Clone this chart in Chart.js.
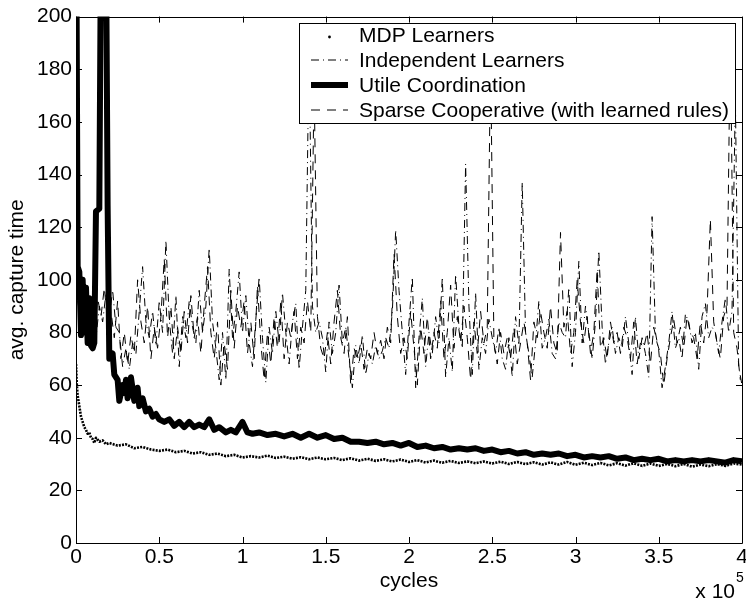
<!DOCTYPE html>
<html>
<head>
<meta charset="utf-8">
<title>avg. capture time</title>
<script src="https://cdn.jsdelivr.net/npm/chart.js@4.4.1/dist/chart.umd.min.js"></script>
<style>
  html, body { margin: 0; padding: 0; background: #fff; }
  #wrap { width: 746px; height: 601px; }
</style>
</head>
<body>
<div id="wrap"><canvas id="chart" width="746" height="601"></canvas></div>
<script>
// x values are in units of 10^5 cycles
const seriesNames = ['MDP Learners', 'Independent Learners', 'Utile Coordination', 'Sparse Cooperative (with learned rules)'];

const xTicks = [0, 0.5, 1, 1.5, 2, 2.5, 3, 3.5, 4];
const yTicks = [0, 20, 40, 60, 80, 100, 120, 140, 160, 180, 200];

const mdpCycles = [0, 0.005, 0.01, 0.02, 0.03, 0.04, 0.05, 0.06, 0.07, 0.08, 0.09, 0.1, 0.11, 0.12, 0.14, 0.16, 0.18, 0.2,
  0.25, 0.3, 0.35, 0.4, 0.45, 0.5, 0.55, 0.6, 0.65, 0.7, 0.75, 0.8, 0.85, 0.9, 0.95, 1.0,
  1.05, 1.1, 1.15, 1.2, 1.25, 1.3, 1.35, 1.4, 1.45, 1.5, 1.55, 1.6, 1.65, 1.7, 1.75, 1.8, 1.85, 1.9, 1.95, 2.0,
  2.05, 2.1, 2.15, 2.2, 2.25, 2.3, 2.35, 2.4, 2.45, 2.5, 2.55, 2.6, 2.65, 2.7, 2.75, 2.8, 2.85, 2.9, 2.95, 3.0,
  3.05, 3.1, 3.15, 3.2, 3.25, 3.3, 3.35, 3.4, 3.45, 3.5, 3.55, 3.6, 3.65, 3.7, 3.75, 3.8, 3.85, 3.9, 3.95, 4.0];
const mdpValues = [68, 60, 56, 52, 48, 46, 44, 43, 41.5, 42, 40, 39.5, 38, 40, 38.5, 39, 37.5, 38,
  37, 37.5, 36, 36.5, 35.5, 35, 35.5, 34.5, 35, 34, 34.5, 33.5, 34, 33, 33.5, 32.5,
  33, 32.5, 33.2, 32.3, 32.8, 32, 32.6, 31.8, 32.5, 31.8, 32.3, 31.5, 32.2, 31.3, 32, 31.2, 31.8, 31, 31.7, 30.8,
  31.5, 30.6, 31.3, 30.5, 31.2, 30.4, 31, 30.3, 31, 30.2, 30.9, 30, 30.8, 30, 30.7, 29.8, 30.6, 29.8, 30.8, 29.7,
  30.5, 29.6, 30.4, 29.5, 30.3, 29.4, 30.3, 29.3, 30.2, 29.3, 30, 29.2, 30, 29, 29.8, 29.2, 30, 29.3, 30.2, 29.8];

const indepCycles = [
  0, 0.02, 0.04, 0.06, 0.08, 0.1, 0.12, 0.14, 0.16, 0.18,
  0.2, 0.22, 0.24, 0.26, 0.28, 0.3, 0.32, 0.34, 0.36, 0.38,
  0.4, 0.42, 0.44, 0.46, 0.48, 0.5, 0.52, 0.54, 0.56, 0.58,
  0.6, 0.62, 0.64, 0.66, 0.68, 0.7, 0.72, 0.74, 0.76, 0.78,
  0.8, 0.82, 0.84, 0.86, 0.88, 0.9, 0.92, 0.94, 0.96, 0.98,
  1.0, 1.02, 1.04, 1.06, 1.08, 1.1, 1.12, 1.14, 1.16, 1.18,
  1.2, 1.22, 1.24, 1.26, 1.28, 1.3, 1.32, 1.34, 1.36, 1.38,
  1.4, 1.42, 1.44, 1.46, 1.48, 1.5, 1.52, 1.54, 1.56, 1.58,
  1.6, 1.62, 1.64, 1.66, 1.68, 1.7, 1.72, 1.74, 1.76, 1.78,
  1.8, 1.82, 1.84, 1.86, 1.88, 1.9, 1.92, 1.94, 1.96, 1.98,
  2.0, 2.02, 2.04, 2.06, 2.08, 2.1, 2.12, 2.14, 2.16, 2.18,
  2.2, 2.22, 2.24, 2.26, 2.28, 2.3, 2.32, 2.34, 2.36, 2.38,
  2.4, 2.42, 2.44, 2.46, 2.48, 2.5, 2.52, 2.54, 2.56, 2.58,
  2.6, 2.62, 2.64, 2.66, 2.68, 2.7, 2.72, 2.74, 2.76, 2.78,
  2.8, 2.82, 2.84, 2.86, 2.88, 2.9, 2.92, 2.94, 2.96, 2.98,
  3.0, 3.02, 3.04, 3.06, 3.08, 3.1, 3.12, 3.14, 3.16, 3.18,
  3.2, 3.22, 3.24, 3.26, 3.28, 3.3, 3.32, 3.34, 3.36, 3.38,
  3.4, 3.42, 3.44, 3.46, 3.48, 3.5, 3.52, 3.54, 3.56, 3.58,
  3.6, 3.62, 3.64, 3.66, 3.68, 3.7, 3.72, 3.74, 3.76, 3.78,
  3.8, 3.82, 3.84, 3.86, 3.88, 3.9, 3.92, 3.94, 3.96, 3.98,
  4.0];
const indepValues = [
  95, 90, 85, 92, 80, 88, 78, 90, 84, 95,
  86, 96, 82, 80, 67, 74, 66, 76, 72, 88,
  105, 84, 78, 88, 75, 92, 80, 115, 85, 72,
  94, 67, 86, 78, 92, 82, 76, 96, 80, 90,
  112, 84, 74, 62, 80, 62, 104, 78, 88, 103,
  80, 94, 76, 67, 85, 101, 78, 61, 82, 72,
  88, 76, 95, 80, 68, 84, 91, 66, 82, 96,
  190, 90, 80, 84, 78, 65, 84, 72, 80, 98,
  76, 82, 70, 59, 75, 68, 79, 64, 72, 68,
  75, 70, 73, 78, 74, 88, 119, 96, 80, 64,
  84, 101, 59, 78, 93, 67, 80, 72, 86, 76,
  101, 63, 78, 65, 102, 82, 74, 144, 90, 64,
  95, 66, 78, 72, 85, 78, 72, 82, 70, 66,
  78, 63, 86, 75, 137, 80, 72, 63, 76, 92,
  74, 78, 85, 72, 70, 84, 80, 78, 97, 67,
  80, 107, 76, 90, 80, 70, 84, 111, 82, 68,
  76, 82, 72, 78, 74, 86, 76, 64, 86, 70,
  78, 72, 63, 124, 80, 73, 59, 67, 76, 88,
  74, 78, 70, 87, 84, 76, 80, 66, 86, 91,
  78, 82, 80, 72, 84, 93, 80, 88, 170, 67,
  60];

const utileCycles = [0, 0.01, 0.02, 0.03, 0.04, 0.05, 0.06, 0.07, 0.08, 0.09, 0.1, 0.11, 0.12, 0.14, 0.15, 0.18, 0.19, 0.2,
  0.22, 0.23, 0.25, 0.26, 0.28, 0.29, 0.3, 0.31, 0.33, 0.35, 0.37, 0.38, 0.4, 0.42, 0.44, 0.46, 0.48, 0.5,
  0.53, 0.56, 0.59, 0.62, 0.65, 0.68, 0.71, 0.74, 0.77, 0.8, 0.83, 0.86, 0.9, 0.93, 0.96, 1.0,
  1.03, 1.06, 1.1, 1.15, 1.2, 1.25, 1.3, 1.35, 1.4, 1.45, 1.5, 1.55, 1.6, 1.65, 1.7, 1.75, 1.8, 1.85, 1.9, 1.95, 2.0,
  2.05, 2.1, 2.15, 2.2, 2.25, 2.3, 2.35, 2.4, 2.45, 2.5, 2.55, 2.6, 2.65, 2.7, 2.75, 2.8, 2.85, 2.9, 2.95, 3.0,
  3.05, 3.1, 3.15, 3.2, 3.25, 3.3, 3.35, 3.4, 3.45, 3.5, 3.55, 3.6, 3.65, 3.7, 3.75, 3.8, 3.85, 3.9, 3.95, 4.0];
const utileValues = [260, 105, 103, 79, 100, 80, 97, 76, 93, 75, 74, 76, 126, 127, 230, 230, 128, 70,
  72, 64, 62, 54, 60, 57, 62, 55, 63, 54, 59, 52, 55, 50, 51, 48, 49, 47,
  46, 47, 44.5, 46, 44, 46, 44, 45, 44, 47, 43, 44, 42, 43, 42, 46,
  42, 41.5, 42, 41, 41.5, 40.5, 41.5, 40, 41.5, 40, 41, 39.5, 40, 38.5, 38.5, 38, 38.5, 37.5, 38, 37, 38,
  36.5, 37, 36, 36.5, 35.5, 36, 35.5, 36, 35, 35.5, 34.5, 35, 34, 34.5, 33.5, 34, 33.5, 34, 33, 33.5,
  32.5, 33, 32.5, 33, 32, 32.5, 31.5, 32, 31.5, 32, 31, 31.5, 31, 31.5, 31, 31.5, 31, 30.5, 31.5, 31];

const sparseCycles = [
  0.01, 0.03, 0.05, 0.07, 0.09, 0.11, 0.13, 0.15, 0.17, 0.19,
  0.21, 0.23, 0.25, 0.27, 0.29, 0.31, 0.33, 0.35, 0.37, 0.39,
  0.41, 0.43, 0.45, 0.47, 0.49, 0.51, 0.53, 0.55, 0.57, 0.59,
  0.61, 0.63, 0.65, 0.67, 0.69, 0.71, 0.73, 0.75, 0.77, 0.79,
  0.81, 0.83, 0.85, 0.87, 0.89, 0.91, 0.93, 0.95, 0.97, 0.99,
  1.01, 1.03, 1.05, 1.07, 1.09, 1.11, 1.13, 1.15, 1.17, 1.19,
  1.21, 1.23, 1.25, 1.27, 1.29, 1.31, 1.33, 1.35, 1.37, 1.39,
  1.41, 1.43, 1.45, 1.47, 1.49, 1.51, 1.53, 1.55, 1.57, 1.59,
  1.61, 1.63, 1.65, 1.67, 1.69, 1.71, 1.73, 1.75, 1.77, 1.79,
  1.81, 1.83, 1.85, 1.87, 1.89, 1.91, 1.93, 1.95, 1.97, 1.99,
  2.01, 2.03, 2.05, 2.07, 2.09, 2.11, 2.13, 2.15, 2.17, 2.19,
  2.21, 2.23, 2.25, 2.27, 2.29, 2.31, 2.33, 2.35, 2.37, 2.39,
  2.41, 2.43, 2.45, 2.47, 2.49, 2.51, 2.53, 2.55, 2.57, 2.59,
  2.61, 2.63, 2.65, 2.67, 2.69, 2.71, 2.73, 2.75, 2.77, 2.79,
  2.81, 2.83, 2.85, 2.87, 2.89, 2.91, 2.93, 2.95, 2.97, 2.99,
  3.01, 3.03, 3.05, 3.07, 3.09, 3.11, 3.13, 3.15, 3.17, 3.19,
  3.21, 3.23, 3.25, 3.27, 3.29, 3.31, 3.33, 3.35, 3.37, 3.39,
  3.41, 3.43, 3.45, 3.47, 3.49, 3.51, 3.53, 3.55, 3.57, 3.59,
  3.61, 3.63, 3.65, 3.67, 3.69, 3.71, 3.73, 3.75, 3.77, 3.79,
  3.81, 3.83, 3.85, 3.87, 3.89, 3.91, 3.93, 3.95, 3.97, 3.99];
const sparseValues = [
  92, 84, 96, 82, 90, 80, 93, 86, 97, 84,
  88, 78, 92, 70, 80, 68, 79, 72, 100, 84,
  76, 90, 70, 82, 74, 86, 108, 78, 90, 70,
  82, 72, 88, 76, 94, 78, 86, 72, 90, 105,
  80, 70, 84, 60, 76, 66, 96, 74, 90, 82,
  92, 72, 84, 70, 98, 76, 62, 80, 68, 86,
  74, 92, 70, 84, 78, 88, 70, 82, 76, 92,
  80, 175, 86, 74, 70, 80, 68, 84, 96, 78,
  72, 86, 60, 74, 70, 76, 66, 74, 70, 80,
  72, 77, 70, 82, 76, 110, 86, 72, 78, 70,
  88, 74, 60, 82, 72, 86, 70, 80, 74, 92,
  70, 80, 98, 74, 86, 76, 90, 78, 62, 84,
  72, 88, 76, 82, 185, 76, 68, 80, 72, 78,
  70, 82, 68, 76, 84, 76, 62, 84, 78, 88,
  80, 74, 90, 76, 72, 118, 82, 88, 72, 80,
  100, 84, 76, 86, 72, 80, 104, 74, 78, 70,
  84, 76, 80, 72, 82, 78, 70, 84, 68, 76,
  74, 80, 68, 82, 76, 72, 60, 70, 78, 85,
  76, 82, 74, 86, 80, 78, 70, 84, 76, 88,
  123, 84, 76, 70, 86, 90, 195, 80, 74, 62];

const FONT = '"Liberation Sans", Arial, Helvetica, sans-serif';
const FONT_SIZE = 21;

function toPoints(xs, ys) {
  return xs.map((x, i) => ({ x: x, y: ys[i] }));
}

// MATLAB-style boxed frame with inward ticks, legend and the x 10^5 exponent
const framePlugin = {
  id: 'frame',
  afterDraw(chart) {
    const { ctx, chartArea: a, scales: { x, y } } = chart;
    const tick = 6;
    ctx.save();
    ctx.strokeStyle = '#000';
    ctx.lineWidth = 1;
    ctx.beginPath();
    ctx.rect(Math.round(a.left) + 0.5, Math.round(a.top) + 0.5, Math.round(a.right - a.left), Math.round(a.bottom - a.top));
    xTicks.forEach(v => {
      const px = Math.round(x.getPixelForValue(v)) + 0.5;
      ctx.moveTo(px, a.bottom); ctx.lineTo(px, a.bottom - tick);
      ctx.moveTo(px, a.top); ctx.lineTo(px, a.top + tick);
    });
    yTicks.forEach(v => {
      const py = Math.round(y.getPixelForValue(v)) + 0.5;
      ctx.moveTo(a.left, py); ctx.lineTo(a.left + tick, py);
      ctx.moveTo(a.right, py); ctx.lineTo(a.right - tick, py);
    });
    ctx.stroke();

    // legend box
    const lx = 299.5, ly = 23.5, lw = 436, lh = 100;
    ctx.fillStyle = '#fff';
    ctx.fillRect(lx, ly, lw, lh);
    ctx.strokeRect(lx, ly, lw, lh);
    ctx.fillStyle = '#000';
    ctx.font = FONT_SIZE + 'px ' + FONT;
    ctx.textBaseline = 'alphabetic';
    ctx.textAlign = 'left';
    const rows = [42, 67, 92, 117];
    const s0 = 311, s1 = 348;
    chart.data.datasets.forEach(ds => {
      const base = rows[ds.legendRow];
      const mid = base - 7;
      ctx.fillText(ds.label, 359, base);
      ctx.save();
      ctx.lineWidth = ds.borderWidth;
      ctx.setLineDash(ds.borderDash || []);
      if (ds.legendRow === 0) {
        ctx.beginPath();
        ctx.arc((s0 + s1) / 2, mid + 2, 1.4, 0, Math.PI * 2);
        ctx.fill();
      } else {
        ctx.beginPath();
        ctx.moveTo(s0, mid); ctx.lineTo(s1, mid);
        ctx.stroke();
      }
      ctx.restore();
    });

    // exponent label
    ctx.font = FONT_SIZE + 'px ' + FONT;
    ctx.textAlign = 'right';
    ctx.fillText('x 10', 735, 598);
    ctx.font = '14px ' + FONT;
    ctx.textAlign = 'left';
    ctx.fillText('5', 736, 582);
    ctx.restore();
  }
};

new Chart(document.getElementById('chart'), {
  type: 'line',
  data: {
    datasets: [
      {
        label: seriesNames[1], legendRow: 1,
        data: toPoints(indepCycles, indepValues),
        borderColor: '#000', borderWidth: 1, borderDash: [8, 4, 1, 4]
      },
      {
        label: seriesNames[0], legendRow: 0,
        data: toPoints(mdpCycles, mdpValues),
        borderColor: '#000', borderWidth: 2.6, borderDash: [2, 1.2]
      },
      {
        label: seriesNames[3], legendRow: 3,
        data: toPoints(sparseCycles, sparseValues),
        borderColor: '#000', borderWidth: 1, borderDash: [9, 7]
      },
      {
        label: seriesNames[2], legendRow: 2,
        data: toPoints(utileCycles, utileValues),
        borderColor: '#000', borderWidth: 6
      }
    ]
  },
  options: {
    responsive: false,
    animation: false,
    layout: { padding: { top: 15, right: 4, left: 0, bottom: 0 } },
    elements: { point: { radius: 0 }, line: { tension: 0, borderCapStyle: 'butt', borderJoinStyle: 'round' } },
    plugins: { legend: { display: false }, tooltip: { enabled: false } },
    scales: {
      x: {
        type: 'linear', min: 0, max: 4,
        afterBuildTicks: (scale) => { scale.ticks = xTicks.map(v => ({ value: v })); },
        afterFit: (scale) => { scale.height = 58; scale.paddingRight = 0; scale.paddingLeft = 0; },
        grid: { display: false, drawTicks: false },
        border: { display: false },
        ticks: { color: '#000', font: { family: FONT, size: FONT_SIZE }, padding: 2, maxRotation: 0, autoSkip: false,
          callback: (value) => String(value) },
        title: { display: true, text: 'cycles', color: '#000', font: { family: FONT, size: FONT_SIZE }, padding: { top: 0, bottom: 7 } }
      },
      y: {
        min: 0, max: 200,
        afterBuildTicks: (scale) => { scale.ticks = yTicks.map(v => ({ value: v })); },
        afterFit: (scale) => { scale.width = 76; },
        grid: { display: false, drawTicks: false },
        border: { display: false },
        ticks: { color: '#000', font: { family: FONT, size: FONT_SIZE }, padding: 4, autoSkip: false },
        title: { display: true, text: 'avg. capture time', color: '#000', font: { family: FONT, size: FONT_SIZE }, padding: { top: 5, bottom: 0 } }
      }
    }
  },
  plugins: [framePlugin]
});
</script>
</body>
</html>
